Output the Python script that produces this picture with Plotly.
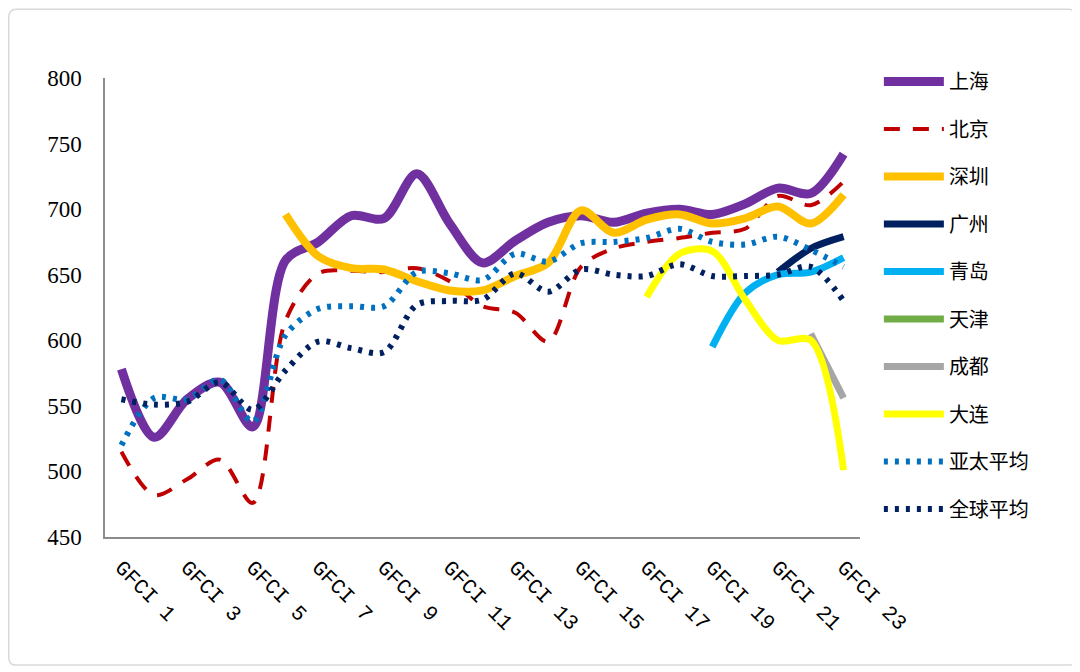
import plotly.graph_objects as go

periods = ["GFCI 1", "GFCI 2", "GFCI 3", "GFCI 4", "GFCI 5", "GFCI 6", "GFCI 7", "GFCI 8",
           "GFCI 9", "GFCI 10", "GFCI 11", "GFCI 12", "GFCI 13", "GFCI 14", "GFCI 15",
           "GFCI 16", "GFCI 17", "GFCI 18", "GFCI 19", "GFCI 20", "GFCI 21", "GFCI 22", "GFCI 23"]
tick_labels = periods[::2]

shanghai = [578, 526, 555, 568, 534, 661, 675, 695, 693, 727, 689, 659, 676, 690, 695, 690,
            697, 700, 696, 704, 716, 712, 742]
beijing = [515, 482, 494, 509, 476, 615, 651, 653, 652, 655, 645, 626, 621, 599, 656, 670,
           675, 678, 682, 685, 710, 703, 721]
shenzhen = [None, None, None, None, None, 696, 664, 655, 654, 645, 638, 638, 649, 659, 699, 682,
            692, 696, 689, 693, 702, 689, 711]
guangzhou = [None] * 20 + [652, 670, 679]
qingdao = [None] * 18 + [595, 636, 650, 652, 663]
tianjin = [None] * 23
chengdu = [None] * 21 + [605, 556]
dalian = [None] * 16 + [633, 666, 668, 631, 600, 600, 501]
asia_avg = [520, 556, 555, 570, 538, 604, 624, 626, 626, 652, 651, 646, 666, 660, 674, 675,
            678, 685, 675, 673, 679, 669, 656]
global_avg = [555, 551, 553, 568, 547, 577, 599, 594, 591, 627, 630, 631, 651, 637, 654, 650,
              649, 658, 649, 649, 650, 656, 630]

series = [
    ("上海", shanghai, "#7030A0", 9, "solid"),
    ("北京", beijing, "#C00000", 4, "16px,13px"),
    ("深圳", shenzhen, "#FFC000", 8, "solid"),
    ("广州", guangzhou, "#002060", 7, "solid"),
    ("青岛", qingdao, "#00B0F0", 7, "solid"),
    ("天津", tianjin, "#70AD47", 7, "solid"),
    ("成都", chengdu, "#A6A6A6", 7, "solid"),
    ("大连", dalian, "#FFFF00", 7, "solid"),
    ("亚太平均", asia_avg, "#0070C0", 6, "4px,7px"),
    ("全球平均", global_avg, "#002060", 6, "4px,7px"),
]

fig = go.Figure()

for name, values, color, width, dash in series:
    fig.add_trace(
        go.Scatter(
            x=periods,
            y=values,
            mode="lines",
            name=name,
            legendgroup=name,
            line=dict(color=color, width=width, dash=dash, shape="spline", smoothing=0.9),
        )
    )

# the page body adds 8px around the figure, so the margins are shifted by that much
fig.update_layout(
    width=1080,
    height=672,
    margin=dict(l=97, r=228, t=70, b=143, autoexpand=False),
    paper_bgcolor="white",
    plot_bgcolor="white",
    showlegend=True,
    legend=dict(
        x=1.025,
        y=1.035,
        xanchor="left",
        yanchor="top",
        maxheight=620,
        font=dict(family="Noto Sans CJK SC", size=20, color="#000000"),
        tracegroupgap=18.5,
        itemwidth=60,
        bgcolor="rgba(0,0,0,0)",
    ),
    xaxis=dict(
        type="category",
        categoryorder="array",
        categoryarray=periods,
        range=[-0.5, 22.5],
        tickmode="array",
        tickvals=tick_labels,
        ticktext=tick_labels,
        tickangle=45,
        tickfont=dict(family="Liberation Mono", size=21, color="#000000"),
        showgrid=False,
        showline=True,
        linecolor="#8C8C8C",
        linewidth=1.5,
        ticks="",
        ticklabelstandoff=8,
        zeroline=False,
    ),
    yaxis=dict(
        range=[450, 800],
        tickvals=[450, 500, 550, 600, 650, 700, 750, 800],
        tickfont=dict(family="Liberation Serif", size=23, color="#000000"),
        showgrid=False,
        showline=True,
        linecolor="#8C8C8C",
        linewidth=1.5,
        ticks="",
        ticklabelstandoff=17,
        zeroline=False,
    ),
    shapes=[
        dict(
            type="path",
            xref="paper", yref="paper",
            path="M -0.118,1.15 L 1.277,1.15 Q 1.2845,1.15 1.2845,1.13 L 1.2845,-0.262 Q 1.2845,-0.279 1.277,-0.279 "
                 "L -0.118,-0.279 Q -0.1275,-0.279 -0.1275,-0.262 L -0.1275,1.13 Q -0.1275,1.15 -0.118,1.15 Z",
            line=dict(color="#D9D9D9", width=1.5),
            layer="below",
        )
    ],
)

fig.write_html("out.html")
